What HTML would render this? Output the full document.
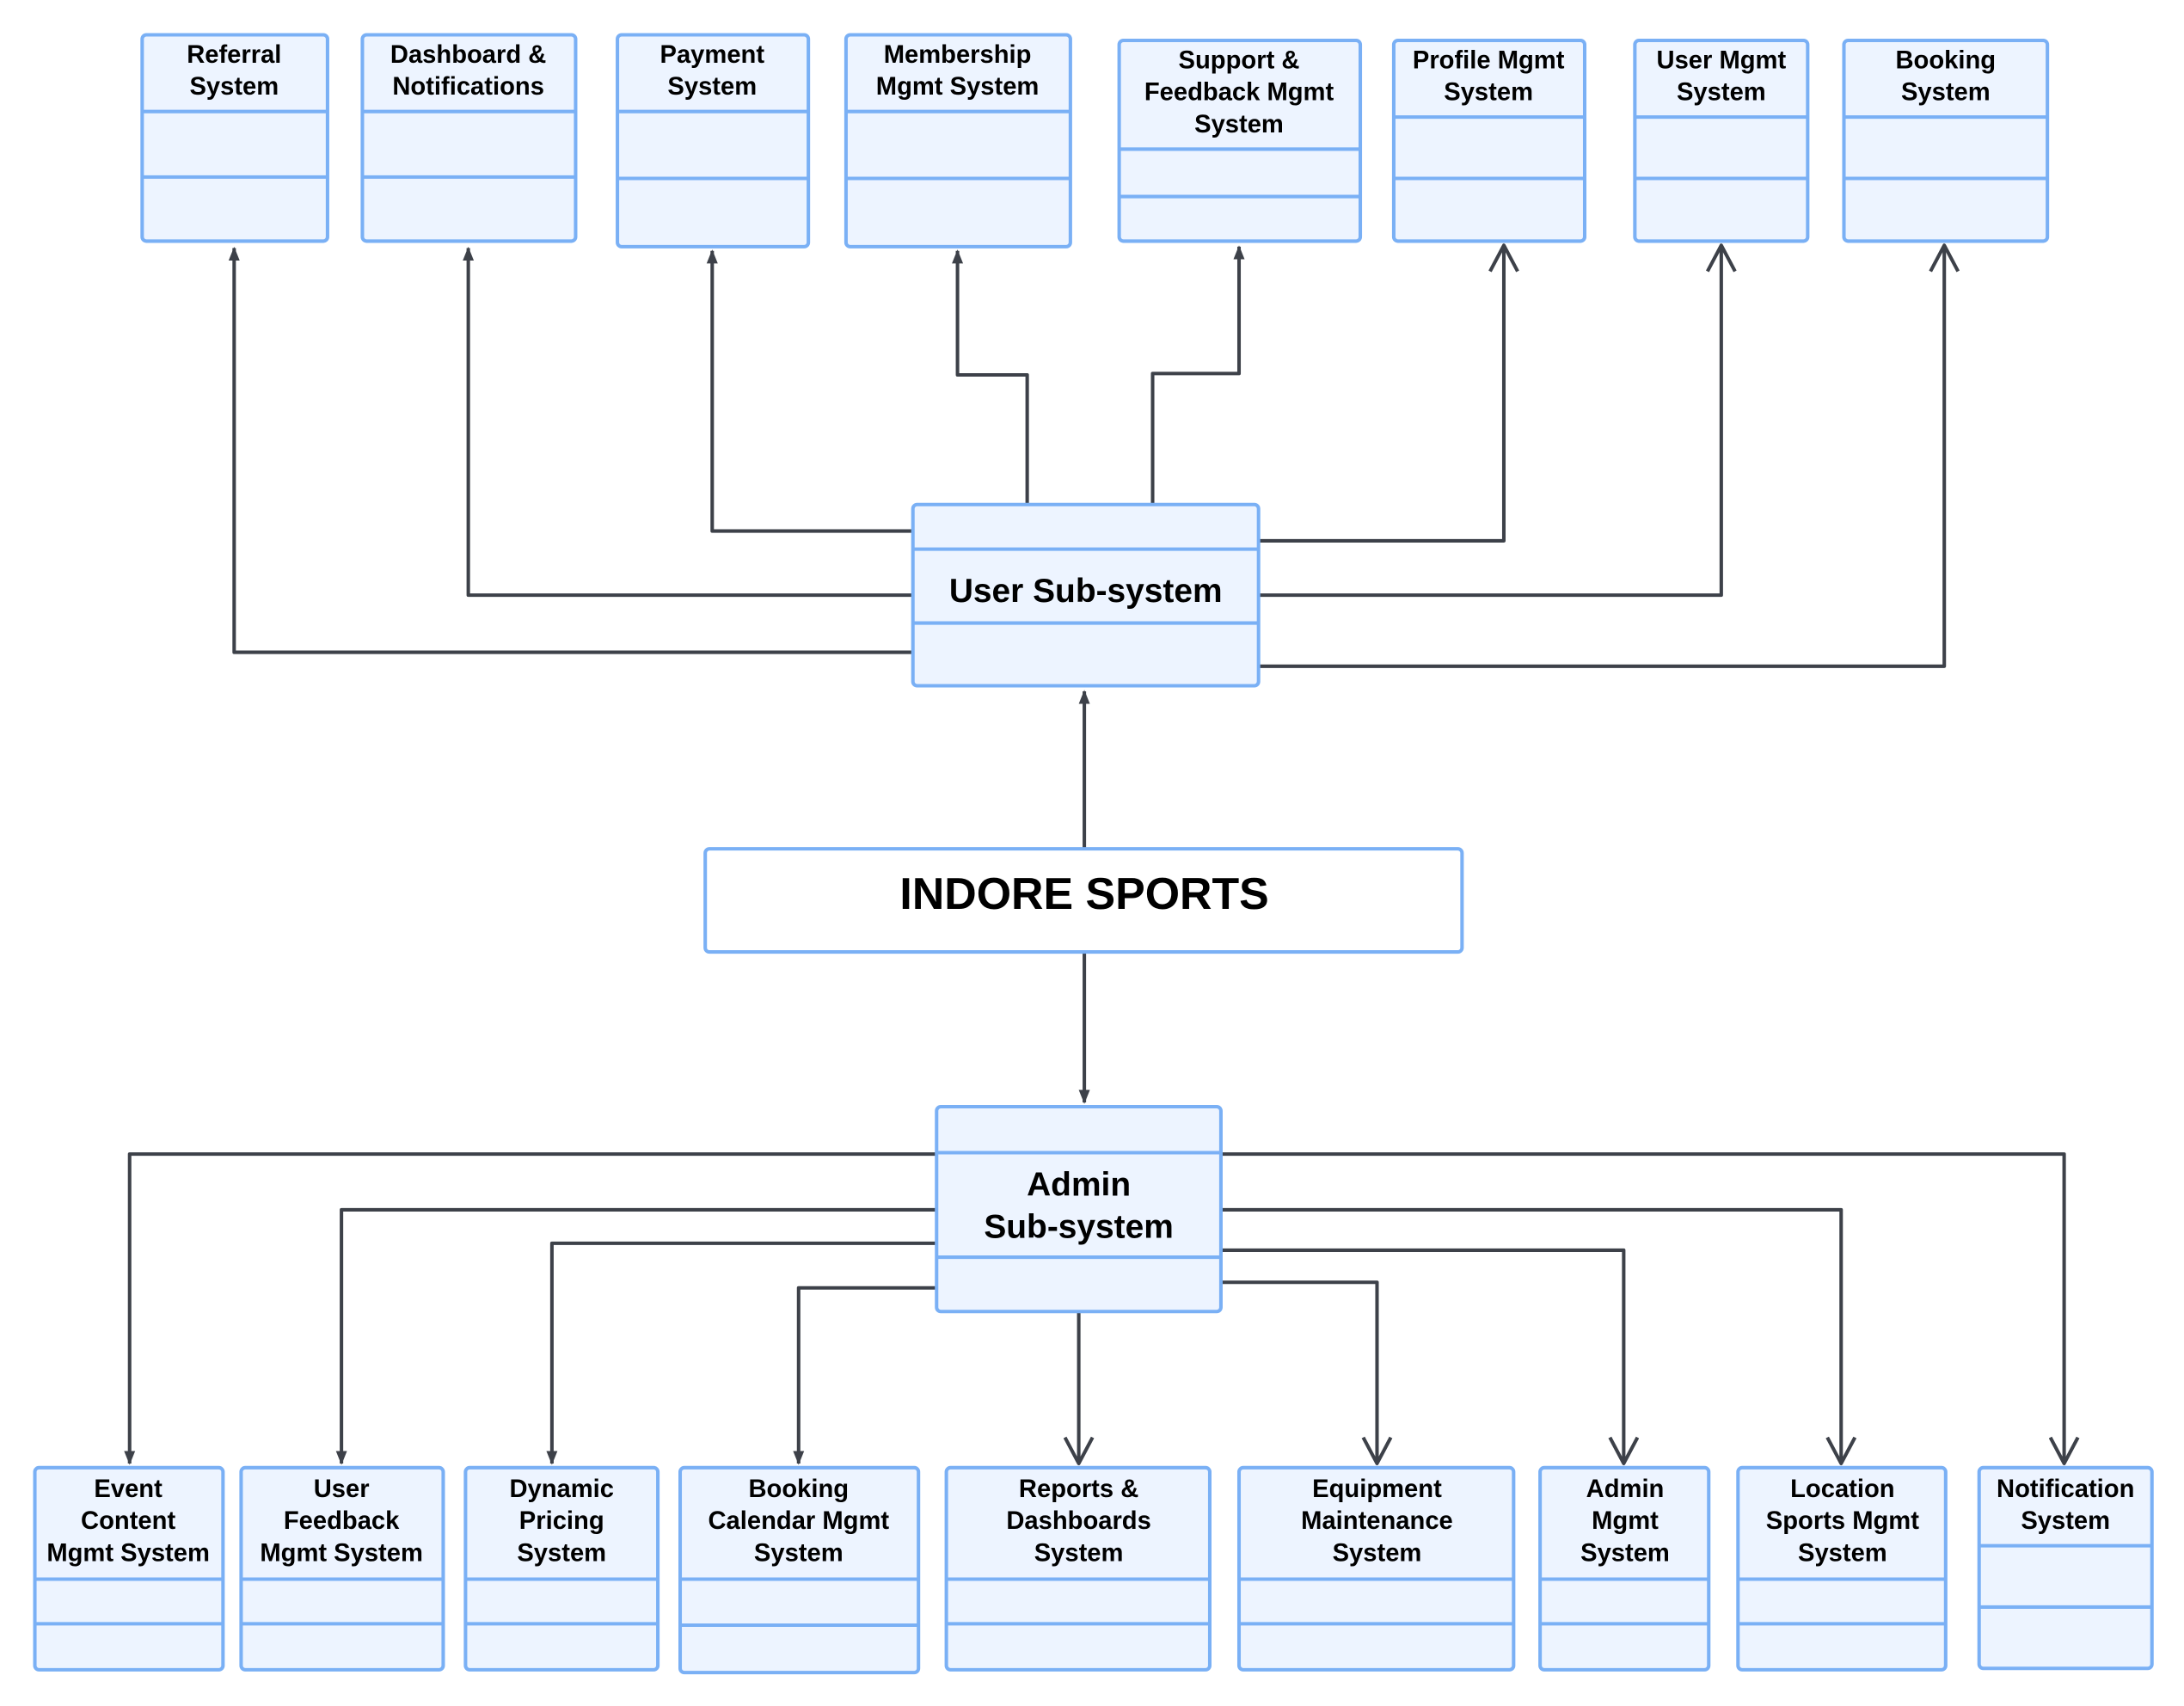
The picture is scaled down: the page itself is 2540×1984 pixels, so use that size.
<!DOCTYPE html>
<html><head><meta charset="utf-8"><style>
html,body{margin:0;padding:0;background:#fff;}
svg{display:block;}
text{font-family:"Liberation Sans",sans-serif;font-weight:bold;fill:#000;text-anchor:middle;}
.b{fill:#edf4ff;stroke:#7ab0f5;stroke-width:2.5;}
.d{stroke:#7ab0f5;stroke-width:2.5;}
.c{fill:none;stroke:#3d4149;stroke-width:2.5;stroke-linejoin:round;}
.f{fill:#3d4149;}
.t{font-size:18px;}
</style></head><body>
<svg width="2540" height="1984" viewBox="0 0 1567 1224" preserveAspectRatio="none" xmlns="http://www.w3.org/2000/svg">
<defs>
<marker id="fa" viewBox="0 0 10 10" refX="9" refY="5" markerWidth="4" markerHeight="4" orient="auto"><path d="M0,1 L10,5 L0,9 z" class="f"/></marker>
<marker id="oa" viewBox="0 0 20 20" refX="18" refY="10" markerWidth="22" markerHeight="22" orient="auto" markerUnits="userSpaceOnUse"><path d="M1,1 L18,10 L1,19" fill="none" stroke="#3d4149" stroke-width="2.3" stroke-linejoin="round"/></marker>
</defs>
<g class="c">
<path d="M655,468 H168 V178" marker-end="url(#fa)"/>
<path d="M655,427 H336 V178" marker-end="url(#fa)"/>
<path d="M655,381 H511 V180" marker-end="url(#fa)"/>
<path d="M737,362 V269 H687 V180" marker-end="url(#fa)"/>
<path d="M827,362 V268 H889 V177" marker-end="url(#fa)"/>
<path d="M903,388 H1079 V176" marker-end="url(#oa)"/>
<path d="M903,427 H1235 V176" marker-end="url(#oa)"/>
<path d="M903,478 H1395 V176" marker-end="url(#oa)"/>
<path d="M778,609 V496" marker-end="url(#fa)"/>
<path d="M778,683 V791" marker-end="url(#fa)"/>
<path d="M672,828 H93 V1050" marker-end="url(#fa)"/>
<path d="M672,868 H245 V1050" marker-end="url(#fa)"/>
<path d="M672,892 H396 V1050" marker-end="url(#fa)"/>
<path d="M672,924 H573 V1050" marker-end="url(#fa)"/>
<path d="M774,941 V1050" marker-end="url(#oa)"/>
<path d="M876,920 H988 V1050" marker-end="url(#oa)"/>
<path d="M876,897 H1165 V1050" marker-end="url(#oa)"/>
<path d="M876,868 H1321 V1050" marker-end="url(#oa)"/>
<path d="M876,828 H1481 V1050" marker-end="url(#oa)"/>
</g>
<g>
<rect class="b" x="102" y="25" width="133" height="148" rx="3"/><line class="d" x1="102" x2="235" y1="80" y2="80"/><line class="d" x1="102" x2="235" y1="127" y2="127"/>
<text class="t" x="168" y="45">Referral</text><text class="t" x="168" y="68">System</text>
<rect class="b" x="260" y="25" width="153" height="148" rx="3"/><line class="d" x1="260" x2="413" y1="80" y2="80"/><line class="d" x1="260" x2="413" y1="127" y2="127"/>
<text class="t" x="336" y="45">Dashboard &amp;</text><text class="t" x="336" y="68">Notifications</text>
<rect class="b" x="443" y="25" width="137" height="152" rx="3"/><line class="d" x1="443" x2="580" y1="80" y2="80"/><line class="d" x1="443" x2="580" y1="128" y2="128"/>
<text class="t" x="511" y="45">Payment</text><text class="t" x="511" y="68">System</text>
<rect class="b" x="607" y="25" width="161" height="152" rx="3"/><line class="d" x1="607" x2="768" y1="80" y2="80"/><line class="d" x1="607" x2="768" y1="128" y2="128"/>
<text class="t" x="687" y="45">Membership</text><text class="t" x="687" y="68">Mgmt System</text>
<rect class="b" x="803" y="29" width="173" height="144" rx="3"/><line class="d" x1="803" x2="976" y1="107" y2="107"/><line class="d" x1="803" x2="976" y1="141" y2="141"/>
<text class="t" x="889" y="49">Support &amp;</text><text class="t" x="889" y="72">Feedback Mgmt</text><text class="t" x="889" y="95">System</text>
<rect class="b" x="1000" y="29" width="137" height="144" rx="3"/><line class="d" x1="1000" x2="1137" y1="84" y2="84"/><line class="d" x1="1000" x2="1137" y1="128" y2="128"/>
<text class="t" x="1068" y="49">Profile Mgmt</text><text class="t" x="1068" y="72">System</text>
<rect class="b" x="1173" y="29" width="124" height="144" rx="3"/><line class="d" x1="1173" x2="1297" y1="84" y2="84"/><line class="d" x1="1173" x2="1297" y1="128" y2="128"/>
<text class="t" x="1235" y="49">User Mgmt</text><text class="t" x="1235" y="72">System</text>
<rect class="b" x="1323" y="29" width="146" height="144" rx="3"/><line class="d" x1="1323" x2="1469" y1="84" y2="84"/><line class="d" x1="1323" x2="1469" y1="128" y2="128"/>
<text class="t" x="1396" y="49">Booking</text><text class="t" x="1396" y="72">System</text>
</g>
<rect class="b" x="655" y="362" width="248" height="130" rx="3"/><line class="d" x1="655" x2="903" y1="394" y2="394"/><line class="d" x1="655" x2="903" y1="447" y2="447"/>
<text x="779" y="432" style="font-size:24px">User Sub-system</text>
<rect x="506" y="609" width="543" height="74" rx="3" fill="#fff" stroke="#7ab0f5" stroke-width="2.5"/>
<text x="778" y="652" style="font-size:32px">INDORE SPORTS</text>
<rect class="b" x="672" y="794" width="204" height="147" rx="3"/><line class="d" x1="672" x2="876" y1="827" y2="827"/><line class="d" x1="672" x2="876" y1="902" y2="902"/>
<text x="774" y="858" style="font-size:24px">Admin</text><text x="774" y="888" style="font-size:24px">Sub-system</text>
<g>
<rect class="b" x="25" y="1053" width="135" height="145" rx="3"/><line class="d" x1="25" x2="160" y1="1133" y2="1133"/><line class="d" x1="25" x2="160" y1="1165" y2="1165"/>
<text class="t" x="92" y="1074">Event</text><text class="t" x="92" y="1097">Content</text><text class="t" x="92" y="1120">Mgmt System</text>
<rect class="b" x="173" y="1053" width="145" height="145" rx="3"/><line class="d" x1="173" x2="318" y1="1133" y2="1133"/><line class="d" x1="173" x2="318" y1="1165" y2="1165"/>
<text class="t" x="245" y="1074">User</text><text class="t" x="245" y="1097">Feedback</text><text class="t" x="245" y="1120">Mgmt System</text>
<rect class="b" x="334" y="1053" width="138" height="145" rx="3"/><line class="d" x1="334" x2="472" y1="1133" y2="1133"/><line class="d" x1="334" x2="472" y1="1165" y2="1165"/>
<text class="t" x="403" y="1074">Dynamic</text><text class="t" x="403" y="1097">Pricing</text><text class="t" x="403" y="1120">System</text>
<rect class="b" x="488" y="1053" width="171" height="147" rx="3"/><line class="d" x1="488" x2="659" y1="1133" y2="1133"/><line class="d" x1="488" x2="659" y1="1166" y2="1166"/>
<text class="t" x="573" y="1074">Booking</text><text class="t" x="573" y="1097">Calendar Mgmt</text><text class="t" x="573" y="1120">System</text>
<rect class="b" x="679" y="1053" width="189" height="145" rx="3"/><line class="d" x1="679" x2="868" y1="1133" y2="1133"/><line class="d" x1="679" x2="868" y1="1165" y2="1165"/>
<text class="t" x="774" y="1074">Reports &amp;</text><text class="t" x="774" y="1097">Dashboards</text><text class="t" x="774" y="1120">System</text>
<rect class="b" x="889" y="1053" width="197" height="145" rx="3"/><line class="d" x1="889" x2="1086" y1="1133" y2="1133"/><line class="d" x1="889" x2="1086" y1="1165" y2="1165"/>
<text class="t" x="988" y="1074">Equipment</text><text class="t" x="988" y="1097">Maintenance</text><text class="t" x="988" y="1120">System</text>
<rect class="b" x="1105" y="1053" width="121" height="145" rx="3"/><line class="d" x1="1105" x2="1226" y1="1133" y2="1133"/><line class="d" x1="1105" x2="1226" y1="1165" y2="1165"/>
<text class="t" x="1166" y="1074">Admin</text><text class="t" x="1166" y="1097">Mgmt</text><text class="t" x="1166" y="1120">System</text>
<rect class="b" x="1247" y="1053" width="149" height="145" rx="3"/><line class="d" x1="1247" x2="1396" y1="1133" y2="1133"/><line class="d" x1="1247" x2="1396" y1="1165" y2="1165"/>
<text class="t" x="1322" y="1074">Location</text><text class="t" x="1322" y="1097">Sports Mgmt</text><text class="t" x="1322" y="1120">System</text>
<rect class="b" x="1420" y="1053" width="124" height="144" rx="3"/><line class="d" x1="1420" x2="1544" y1="1109" y2="1109"/><line class="d" x1="1420" x2="1544" y1="1153" y2="1153"/>
<text class="t" x="1482" y="1074">Notification</text><text class="t" x="1482" y="1097">System</text>
</g>
</svg>
</body></html>
